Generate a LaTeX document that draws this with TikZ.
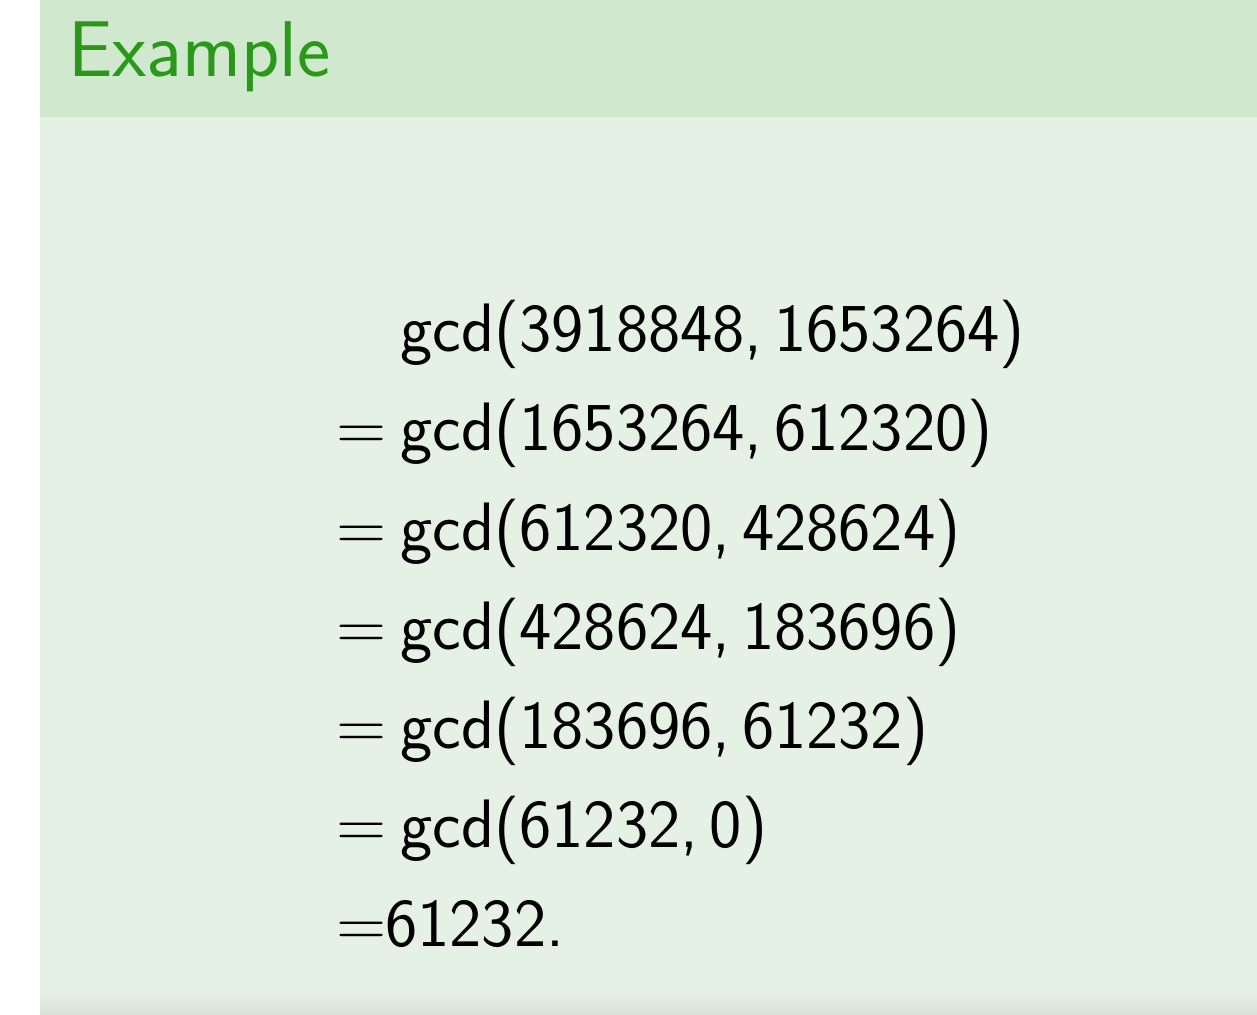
\documentclass[tikz,border=0pt]{standalone}
\usepackage{amsmath, amssymb}
\usepackage{tikz}
\usepackage{xcolor}

\definecolor{titlebg}{RGB}{208,232,205}
\definecolor{bodybg}{RGB}{230,241,229}
\definecolor{footbg}{RGB}{218,226,217}
\definecolor{titlefg}{RGB}{42,152,24}

\tikzset{
	line/.style={anchor=base west, inner sep=0pt, font=\fontsize{39}{46}\selectfont\sffamily},
	eq/.style={anchor=base west, inner sep=0pt, font=\fontsize{39}{46}\selectfont\sffamily}
}

\begin{document}
\begin{tikzpicture}
				\useasboundingbox (0,0) rectangle (25.14,20.28);
				\fill[white] (0,0) rectangle (25.14,20.28);
				\fill[bodybg] (0.8,0) rectangle (25.14,17.94);
				\fill[titlebg] (0.8,17.94) rectangle (25.14,20.28);
				\shade[top color=bodybg, bottom color=footbg] (0.8,0) rectangle (25.14,0.5);
				\node[anchor=base west, inner sep=0pt, text=titlefg, font=\fontsize{45}{52}\selectfont\sffamily] at (1.36,18.74) (title) {Example};
				
				\node[line] at (8.0,13.24) (L1) {gcd(3918848,\,1653264)};
				\node[eq] at (6.72,11.26) (E2) {=};
				\node[line] at (8.0,11.26) (L2) {gcd(1653264,\,612320)};
				\node[eq] at (6.72,9.28) (E3) {=};
				\node[line] at (8.0,9.28) (L3) {gcd(612320,\,428624)};
				\node[eq] at (6.72,7.30) (E4) {=};
				\node[line] at (8.0,7.30) (L4) {gcd(428624,\,183696)};
				\node[eq] at (6.72,5.32) (E5) {=};
				\node[line] at (8.0,5.32) (L5) {gcd(183696,\,61232)};
				\node[eq] at (6.72,3.34) (E6) {=};
				\node[line] at (8.0,3.34) (L6) {gcd(61232,\,0)};
				\node[eq] at (6.72,1.36) (E7) {=};
				\node[line] at (7.70,1.36) (L7) {61232.};
\end{tikzpicture}
\end{document}
